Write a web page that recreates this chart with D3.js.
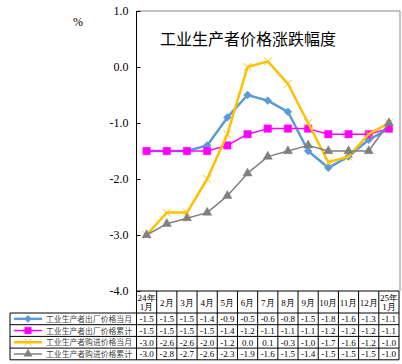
<!DOCTYPE html>
<html>
<head>
<meta charset="UTF-8">
<title>工业生产者价格涨跌幅度</title>
<script src="https://cdn.jsdelivr.net/npm/d3@7"></script>
<style>
  body { margin: 0; background: #fff; }
  svg { display: block; }
  .num { font-family: "Liberation Serif", "DejaVu Serif", serif; }
  .cjk { font-family: "Noto Sans CJK SC", sans-serif; }
</style>
</head>
<body>
<svg id="chart" width="402" height="364"></svg>
<script>
// months along the bottom (header row of the table)
var months = [["24年", "1月"], ["2月"], ["3月"], ["4月"], ["5月"], ["6月"], ["7月"], ["8月"], ["9月"], ["10月"], ["11月"], ["12月"], ["25年", "1月"]];

var seriesNames = ["工业生产者出厂价格当月", "工业生产者出厂价格累计", "工业生产者购进价格当月", "工业生产者购进价格累计"];

var ppiMonth  = [-1.5, -1.5, -1.5, -1.4, -0.9, -0.5, -0.6, -0.8, -1.5, -1.8, -1.6, -1.3, -1.1];
var ppiCum    = [-1.5, -1.5, -1.5, -1.5, -1.4, -1.2, -1.1, -1.1, -1.1, -1.2, -1.2, -1.2, -1.1];
var ppirmMonth = [-3.0, -2.6, -2.6, -2.0, -1.2, 0.0, 0.1, -0.3, -1.0, -1.7, -1.6, -1.2, -1.0];
var ppirmCum  = [-3.0, -2.8, -2.7, -2.6, -2.3, -1.9, -1.6, -1.5, -1.4, -1.5, -1.5, -1.5, -1.0];

var yTicks = [1.0, 0.0, -1.0, -2.0, -3.0, -4.0];

var colors = ["#5b9bd5", "#ff00ff", "#ffc000", "#808080"];
var widths = [2.5, 1.5, 2.5, 1.5];
var symbols = [d3.symbolDiamond2, d3.symbolSquare2, d3.symbolX, d3.symbolTriangle2];
var symSizes = [40, 70, 40, 60];

var allSeries = [ppiMonth, ppiCum, ppirmMonth, ppirmCum];

var svg = d3.select("#chart");
var plotL = 136.5, plotR = 399, plotT = 11, plotB = 291;

var x = d3.scaleBand().domain(d3.range(months.length)).range([plotL, plotR]).padding(0);
var y = d3.scaleLinear().domain([-4, 1]).range([plotB, plotT]);

function fmt(v) { return d3.format(".1f")(v).replace("−", "-"); }

// plot frame (grey top / right)
svg.append("path")
  .attr("d", "M" + plotL + "," + plotT + "H" + (plotR + 1) + "V" + plotB)
  .attr("fill", "none").attr("stroke", "#888").attr("stroke-width", 1);

// y axis
var yAxis = svg.append("g")
  .attr("transform", "translate(" + plotL + ",0)")
  .call(d3.axisRight(y).tickValues(yTicks).tickSize(4).tickFormat(fmt));
yAxis.select(".domain").attr("stroke", "#000").attr("d", "M0," + plotT + "V" + plotB);
yAxis.selectAll(".tick line").attr("stroke", "#000");
yAxis.selectAll(".tick text")
  .attr("class", "num")
  .attr("x", -8).attr("text-anchor", "end")
  .attr("font-size", 12).attr("fill", "#000");

svg.append("text").attr("class", "num")
  .attr("x", 78).attr("y", 26).attr("font-size", 12).attr("text-anchor", "middle")
  .text("%");

// title
svg.append("text").attr("class", "cjk")
  .attr("x", 248).attr("y", 45).attr("font-size", 16).attr("text-anchor", "middle")
  .attr("fill", "#000")
  .text("工业生产者价格涨跌幅度");

// series lines + markers
var line = d3.line()
  .x(function(d, i) { return x(i) + x.bandwidth() / 2; })
  .y(function(d) { return y(d); });

allSeries.forEach(function(vals, s) {
  var g = svg.append("g");
  g.append("path").datum(vals)
    .attr("d", line)
    .attr("fill", "none")
    .attr("stroke", colors[s])
    .attr("stroke-width", widths[s])
    .attr("stroke-linejoin", "round");
  g.selectAll("path.m").data(vals).enter().append("path")
    .attr("class", "m")
    .attr("transform", function(d, i) {
      return "translate(" + (x(i) + x.bandwidth() / 2) + "," + y(d) + ")";
    })
    .attr("d", d3.symbol().type(symbols[s]).size(symSizes[s]))
    .attr("fill", s == 2 ? "none" : colors[s])
    .attr("stroke", colors[s])
    .attr("stroke-width", s == 2 ? 1 : 0.5);
});

// data table under the chart
var headerBottom = 313, rowH = 11.7, tableLeft = 10;
var tbl = svg.append("g").attr("stroke", "#000").attr("stroke-width", 1).attr("fill", "none");

// x axis line / header top
tbl.append("line").attr("x1", plotL).attr("x2", plotR).attr("y1", plotB).attr("y2", plotB);
// column lines
d3.range(months.length + 1).forEach(function(i) {
  var xx = i < months.length ? x(i) : plotR;
  tbl.append("line").attr("x1", xx).attr("x2", xx)
    .attr("y1", plotB).attr("y2", headerBottom + rowH * 4);
});
// row lines
d3.range(5).forEach(function(r) {
  var yy = headerBottom + rowH * r;
  tbl.append("line").attr("x1", tableLeft).attr("x2", plotR).attr("y1", yy).attr("y2", yy);
});
tbl.append("line").attr("x1", tableLeft).attr("x2", tableLeft)
  .attr("y1", headerBottom).attr("y2", headerBottom + rowH * 4);

// header labels
months.forEach(function(m, i) {
  var cx = x(i) + x.bandwidth() / 2;
  var t = svg.append("text").attr("class", "num")
    .attr("text-anchor", "middle").attr("font-size", 9).attr("fill", "#000");
  if (m.length == 2) {
    t.append("tspan").attr("x", cx).attr("y", 300.5).text(m[0]);
    t.append("tspan").attr("x", cx).attr("y", 310).text(m[1]);
  } else {
    t.attr("x", cx).attr("y", 305.5).text(m[0]);
  }
});

// rows: legend key + values
allSeries.forEach(function(vals, s) {
  var cy = headerBottom + rowH * s + rowH / 2;
  svg.append("line").attr("x1", 14).attr("x2", 42).attr("y1", cy).attr("y2", cy)
    .attr("stroke", colors[s]).attr("stroke-width", widths[s]);
  svg.append("path")
    .attr("transform", "translate(28," + cy + ")")
    .attr("d", d3.symbol().type(symbols[s]).size(symSizes[s] * 0.8))
    .attr("fill", s == 2 ? "none" : colors[s])
    .attr("stroke", colors[s]).attr("stroke-width", s == 2 ? 1 : 0.5);
  svg.append("text").attr("class", "cjk")
    .attr("x", 46).attr("y", cy + 3.2).attr("font-size", 8)
    .attr("textLength", 86).attr("lengthAdjust", "spacingAndGlyphs")
    .attr("fill", "#444")
    .text(seriesNames[s]);
  vals.forEach(function(v, i) {
    svg.append("text").attr("class", "num")
      .attr("x", x(i) + x.bandwidth() / 2).attr("y", cy + 3.3)
      .attr("text-anchor", "middle").attr("font-size", 9).attr("fill", "#000")
      .text(fmt(v));
  });
});
</script>
</body>
</html>
